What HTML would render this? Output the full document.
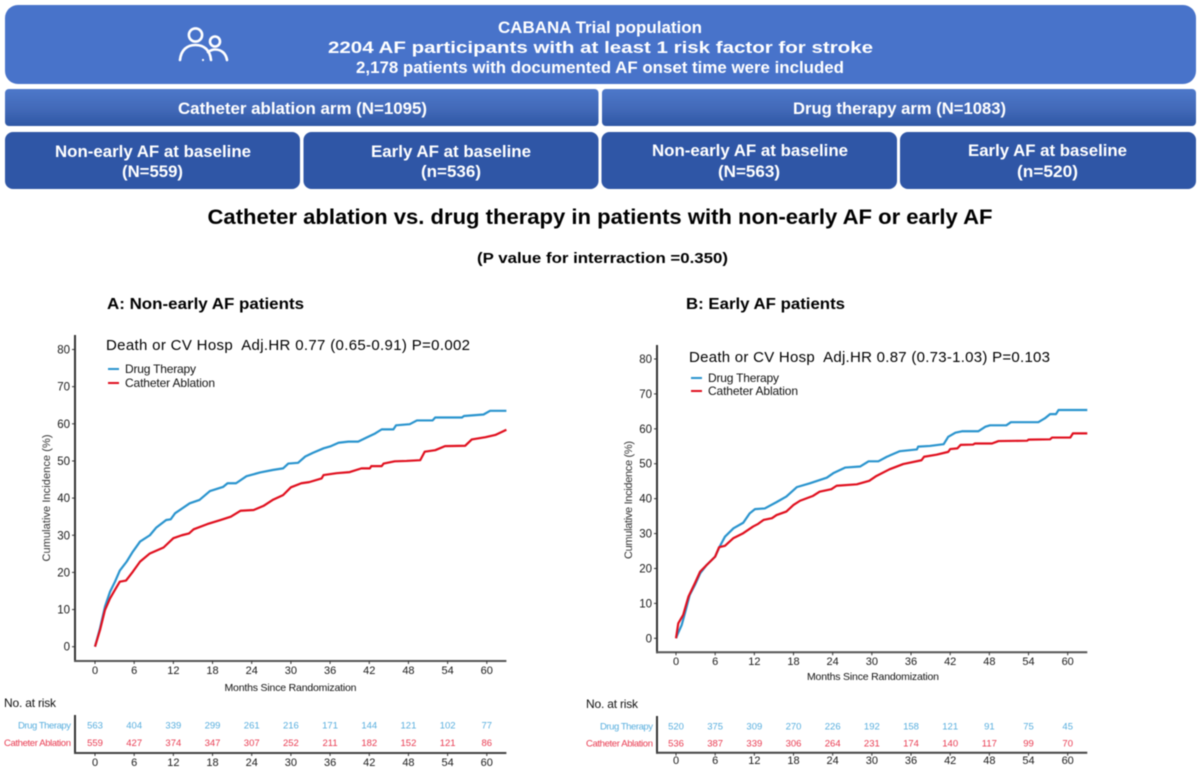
<!DOCTYPE html>
<html lang="en">
<head>
<meta charset="utf-8">
<title>CABANA Trial: catheter ablation vs. drug therapy</title>
<style>
html,body{margin:0;padding:0;background:#fff;width:1200px;height:769px;overflow:hidden}
svg{display:block;font-family:"Liberation Sans",Arial,sans-serif;filter:blur(0.45px)}
text{white-space:pre}
.hd{fill:#fff;font-weight:bold;font-size:16.5px;text-anchor:middle}
</style>
</head>
<body>
<svg id="figure" xmlns="http://www.w3.org/2000/svg" width="1200" height="769" viewBox="0 0 1200 769">
<defs>
<linearGradient id="armGrad" x1="0" y1="0" x2="0" y2="1">
<stop offset="0" stop-color="#4d78ca"/><stop offset="0.55" stop-color="#4269b8"/><stop offset="1" stop-color="#2e57a5"/>
</linearGradient>
</defs>
<rect x="5" y="5" width="1191" height="79" rx="13" fill="#4873ca"/>
<g fill="none" stroke="#fff" stroke-width="2.6" stroke-linecap="round">
<circle cx="195.5" cy="35" r="6.6"/>
<path d="M180 60 C181 50 187 45 195.5 45 C204 45 210 50 211 60"/>
<circle cx="215" cy="41.5" r="5"/>
<path d="M208 52 C211 50 213 49.5 215 49.5 C222 49.5 226 54 227 60"/>
<circle cx="203" cy="60" r="0.6" stroke-width="1"/>
</g>
<text class="hd" x="600" y="33" textLength="204" lengthAdjust="spacingAndGlyphs">CABANA Trial population</text>
<text class="hd" x="600.5" y="53" textLength="545" lengthAdjust="spacingAndGlyphs">2204 AF participants with at least 1 risk factor for stroke</text>
<text class="hd" x="600" y="73" textLength="488" lengthAdjust="spacingAndGlyphs">2,178 patients with documented AF onset time were included</text>

<rect x="5" y="89" width="593.500" height="37" rx="4" fill="url(#armGrad)"/>
<rect x="602" y="89" width="594" height="37" rx="4" fill="url(#armGrad)"/>
<text class="hd" x="302.500" y="114" textLength="249" lengthAdjust="spacingAndGlyphs">Catheter ablation arm (N=1095)</text>
<text class="hd" x="899.500" y="114" textLength="213" lengthAdjust="spacingAndGlyphs">Drug therapy arm (N=1083)</text>

<rect x="5" y="132" width="295" height="57" rx="8" fill="#2f56a6"/>
<rect x="303.500" y="132" width="295" height="57" rx="8" fill="#2f56a6"/>
<rect x="601.500" y="132" width="295.500" height="57" rx="8" fill="#2f56a6"/>
<rect x="900" y="132" width="296" height="57" rx="8" fill="#2f56a6"/>
<text class="hd" x="153" y="157" textLength="196" lengthAdjust="spacingAndGlyphs">Non-early AF at baseline</text>
<text class="hd" x="152.500" y="177" textLength="61" lengthAdjust="spacingAndGlyphs">(N=559)</text>
<text class="hd" x="451" y="157" textLength="160" lengthAdjust="spacingAndGlyphs">Early AF at baseline</text>
<text class="hd" x="451" y="177" textLength="60" lengthAdjust="spacingAndGlyphs">(n=536)</text>
<text class="hd" x="750" y="156" textLength="196" lengthAdjust="spacingAndGlyphs">Non-early AF at baseline</text>
<text class="hd" x="749" y="177" textLength="62" lengthAdjust="spacingAndGlyphs">(N=563)</text>
<text class="hd" x="1047.500" y="156" textLength="159" lengthAdjust="spacingAndGlyphs">Early AF at baseline</text>
<text class="hd" x="1047.500" y="177" textLength="61" lengthAdjust="spacingAndGlyphs">(n=520)</text>

<text x="600" y="224" font-size="21" font-weight="bold" text-anchor="middle" fill="#000" textLength="785" lengthAdjust="spacingAndGlyphs">Catheter ablation vs. drug therapy in patients with non-early AF or early AF</text>
<text x="602.500" y="263" font-size="15" font-weight="bold" text-anchor="middle" fill="#000" textLength="251" lengthAdjust="spacingAndGlyphs">(P value for interraction =0.350)</text>
<text x="107" y="309" font-size="16" font-weight="bold" fill="#000" textLength="197" lengthAdjust="spacingAndGlyphs">A: Non-early AF patients</text>
<text x="686" y="309" font-size="16" font-weight="bold" fill="#000" textLength="159" lengthAdjust="spacingAndGlyphs">B: Early AF patients</text>

<g id="panelA"></g>
<g id="panelB"></g>
</svg>

<script>
var monthTicks = [0, 6, 12, 18, 24, 30, 36, 42, 48, 54, 60];
var percentTicks = [0, 10, 20, 30, 40, 50, 60, 70, 80];

var drugAMonths = [0, 0.77, 1.53, 2.3, 3.06, 3.8, 4.85, 5.8, 6.9, 8.4, 9.4, 10.9, 11.6, 12.25, 14.5, 16, 17.6, 19.6, 20.3, 21.6, 23.2, 25.3, 27.3, 28.8, 29.6, 31.1, 32.2, 33.4, 35, 36, 37.3, 38.8, 40.3, 41.6, 42.9, 43.9, 45.7, 46.1, 48.2, 49.3, 51.7, 52.1, 56.2, 56.5, 59.5, 60.5, 63];
var drugAValues = [0, 5, 10.8, 14.8, 17.5, 20.5, 22.9, 25.6, 28.3, 30, 32.1, 34.1, 34.3, 35.9, 38.6, 39.5, 41.9, 43, 44, 44, 45.9, 46.9, 47.6, 48, 49.3, 49.5, 51.2, 52.2, 53.4, 53.9, 54.9, 55.2, 55.2, 56.3, 57.4, 58.5, 58.5, 59.6, 59.9, 60.9, 60.9, 61.7, 61.7, 62.1, 62.5, 63.500, 63.500];
var ablationAMonths = [0, 0.77, 1.53, 2.3, 3.06, 3.8, 4.75, 5.8, 6.9, 8.4, 10.5, 12, 13.3, 14.4, 15.1, 17.2, 19.2, 20.8, 22.3, 24.3, 25.8, 27.3, 28.8, 30, 31.6, 32.8, 34.7, 35, 37, 39, 40.8, 42.1, 42.3, 43.9, 44.2, 45.9, 47.7, 49.8, 50.5, 52.1, 53.6, 56.7, 57.7, 59.8, 61.3, 62.4, 63];
var ablationAValues = [0, 4.5, 9.9, 13, 15.3, 17.5, 17.8, 20.2, 22.9, 25.1, 26.7, 29.2, 30, 30.5, 31.6, 33, 34.1, 35, 36.6, 36.8, 37.9, 39.6, 40.8, 42.9, 44, 44.3, 45.3, 46.2, 46.7, 47, 48, 48, 48.6, 48.6, 49.3, 49.9, 50, 50.2, 52.5, 52.9, 54, 54.1, 55.8, 56.4, 57, 57.9, 58.4];

var drugBMonths = [0, 0.2, 0.87, 1.5, 2.1, 2.9, 3.7, 4.7, 6, 6.7, 7.5, 8.8, 10.3, 11.3, 12.1, 13.6, 15.4, 16.9, 18.5, 20.5, 23.1, 24.1, 25.9, 28.2, 29.5, 31, 32.3, 34.3, 36.9, 37.1, 38.9, 41, 41.7, 42.8, 43.8, 46.3, 47.4, 48.1, 50.6, 51.3, 55.5, 56.5, 57.3, 58.2, 58.6, 63];
var drugBValues = [0, 1, 3.8, 8.1, 12.4, 15.3, 18.6, 21, 23.4, 26.3, 29.1, 31.5, 33.1, 35.8, 37, 37.2, 39, 40.6, 43.3, 44.4, 46, 47.3, 48.9, 49.2, 50.7, 50.7, 52, 53.6, 54.1, 54.9, 55.1, 55.6, 57.7, 58.9, 59.3, 59.3, 60.6, 61, 61, 61.9, 61.9, 63, 64.2, 64.2, 65.4, 65.4];
var ablationBMonths = [0, 0.35, 1.1, 1.9, 2.9, 3.7, 4.7, 6, 6.6, 7.5, 8.8, 10.3, 11.8, 12.6, 13.4, 14.7, 15.4, 16.9, 18, 19, 21, 22, 23.8, 24.6, 27.7, 29.6, 30.7, 32.7, 34.8, 37.6, 38, 39.9, 41.7, 42, 43.1, 43.6, 45.5, 45.8, 48.4, 49.4, 53.8, 54, 57.3, 57.6, 60.4, 60.8, 63];
var ablationBValues = [0, 4.3, 6.7, 11.9, 15.8, 19.1, 21, 23.4, 26.1, 26.5, 28.7, 30.1, 32, 32.8, 33.9, 34.4, 35.3, 36.3, 38.2, 39.4, 40.8, 42, 42.7, 43.7, 44.1, 45.1, 46.5, 48.4, 49.9, 51, 52, 52.6, 53.4, 54.2, 54.4, 55.4, 55.5, 55.8, 55.8, 56.5, 56.6, 56.9, 57, 57.5, 57.5, 58.7, 58.7];

var riskDrugA = [563, 404, 339, 299, 261, 216, 171, 144, 121, 102, 77];
var riskAblationA = [559, 427, 374, 347, 307, 252, 211, 182, 152, 121, 86];
var riskDrugB = [520, 375, 309, 270, 226, 192, 158, 121, 91, 75, 45];
var riskAblationB = [536, 387, 339, 306, 264, 231, 174, 140, 117, 99, 70];

var NS = 'http://www.w3.org/2000/svg';
var BLUE = '#2a94ce', RED = '#e0101f', RISK_BLUE = '#58aede', RISK_RED = '#e83a50', INK = '#1a1a1a';

function node(parent, tag, attrs, content) {
  var el = document.createElementNS(NS, tag);
  for (var k in attrs) el.setAttribute(k, attrs[k]);
  if (content !== undefined) el.textContent = content;
  parent.appendChild(el);
  return el;
}
function linear(d0, d1, r0, r1) {
  return function (v) { return r0 + (v - d0) * (r1 - r0) / (d1 - d0); };
}
function seriesPath(months, values, x, y) {
  return months.map(function (m, i) {
    return (i ? 'L' : 'M') + x(m).toFixed(2) + ' ' + y(values[i]).toFixed(2);
  }).join('');
}

function drawPanel(g, o) {
  var x = linear(0, 60, o.x0, o.x60);
  var y = linear(0, 80, o.y0, o.y80);
  var el;

  el = node(g, 'line', {x1: o.axisX, x2: o.axisX, y1: o.axisTop, y2: o.axisY + 1, stroke: '#333', 'stroke-width': 2});
  
  
  el = node(g, 'line', {x1: o.axisX - 1, x2: x(63), y1: o.axisY, y2: o.axisY, stroke: '#555', 'stroke-width': 2});
  
  

  percentTicks.forEach(function (t) {
    var tick = node(g, 'line', {x1: o.axisX - 3, x2: o.axisX, y1: y(t), y2: y(t), stroke: '#333', 'stroke-width': 1});
    
    
    var label = node(g, 'text', {x: o.axisX - 5, y: y(t) + 4, 'font-size': 11.500, 'text-anchor': 'end', fill: INK}, String(t));
    
    
  });
  monthTicks.forEach(function (t) {
    var tick = node(g, 'line', {x1: x(t), x2: x(t), y1: o.axisY, y2: o.axisY + 3, stroke: '#333', 'stroke-width': 1});
    
    
    var label = node(g, 'text', {x: x(t), y: o.tickBase, 'font-size': 11, 'text-anchor': 'middle', fill: INK}, String(t));
    
    
  });

  el = node(g, 'text', {transform: 'translate(' + o.yTitleX + ' ' + o.yTitleY + ') rotate(-90)', 'font-size': 11, 'text-anchor': 'middle', fill: '#333', textLength: o.yTitleLen}, 'Cumulative Incidence (%)');
  
  
  el = node(g, 'text', {x: o.xTitleX, y: o.xTitleY, 'font-size': 10.500, 'text-anchor': 'middle', fill: '#111', textLength: 132}, 'Months Since Randomization');
  
  

  el = node(g, 'path', {d: seriesPath(o.drugM, o.drugV, x, y), fill: 'none', stroke: BLUE, 'stroke-width': 2.200, 'stroke-linejoin': 'round'});
  
  
  el = node(g, 'path', {d: seriesPath(o.ablM, o.ablV, x, y), fill: 'none', stroke: RED, 'stroke-width': 2.200, 'stroke-linejoin': 'round'});
  
  

  el = node(g, 'text', {x: o.hrX, y: o.hrY, 'font-size': 15, fill: '#000', textLength: o.hrW}, o.hrText);
  
  

  el = node(g, 'line', {x1: o.legX, x2: o.legX + 11, y1: o.legY1, y2: o.legY1, stroke: BLUE, 'stroke-width': 2});
  
  
  el = node(g, 'text', {x: o.legX + 17, y: o.legY1 + 4, 'font-size': 12, fill: '#111', textLength: 71}, 'Drug Therapy');
  
  
  el = node(g, 'line', {x1: o.legX, x2: o.legX + 11, y1: o.legY2, y2: o.legY2, stroke: RED, 'stroke-width': 2});
  
  
  el = node(g, 'text', {x: o.legX + 17, y: o.legY2 + 4, 'font-size': 12, fill: '#111', textLength: 90}, 'Catheter Ablation');
  
  

  el = node(g, 'text', {x: o.riskTitleX, y: o.riskTitleY, 'font-size': 12, fill: '#111', textLength: 52}, 'No. at risk');
  
  
  el = node(g, 'line', {x1: o.axisX, x2: o.axisX, y1: o.riskTop, y2: o.riskAxisY + 1, stroke: '#333', 'stroke-width': 2});
  
  
  el = node(g, 'line', {x1: o.axisX - 1, x2: x(63), y1: o.riskAxisY, y2: o.riskAxisY, stroke: '#444', 'stroke-width': 2});
  
  
  el = node(g, 'text', {x: o.axisX - 4, y: o.riskY1, 'font-size': 9.500, 'text-anchor': 'end', fill: RISK_BLUE, textLength: 53}, 'Drug Therapy');
  
  
  el = node(g, 'text', {x: o.axisX - 4, y: o.riskY2, 'font-size': 9.500, 'text-anchor': 'end', fill: RISK_RED, textLength: 67}, 'Catheter Ablation');
  
  

  monthTicks.forEach(function (t, i) {
    var a = node(g, 'text', {x: x(t), y: o.riskY1, 'font-size': 9.500, 'text-anchor': 'middle', fill: RISK_BLUE}, String(o.riskDrug[i]));
    
    
    var b = node(g, 'text', {x: x(t), y: o.riskY2, 'font-size': 9.500, 'text-anchor': 'middle', fill: RISK_RED}, String(o.riskAbl[i]));
    
    
    var tick = node(g, 'line', {x1: x(t), x2: x(t), y1: o.riskAxisY, y2: o.riskAxisY + 3, stroke: '#333', 'stroke-width': 1});
    
    
    var c = node(g, 'text', {x: x(t), y: o.riskTickBase, 'font-size': 11, 'text-anchor': 'middle', fill: INK}, String(t));
    
    
  });
}

drawPanel(document.getElementById('panelA'), {
  x0: 95, x60: 486.8, y0: 646.7, y80: 349.5,
  axisX: 75, axisTop: 335, axisY: 661, tickBase: 674,
  yTitleX: 50, yTitleY: 498, yTitleLen: 127, xTitleX: 290.500, xTitleY: 691,
  hrX: 106, hrY: 350, hrW: 364, hrText: 'Death or CV Hosp  Adj.HR 0.77 (0.65-0.91) P=0.002',
  legX: 108, legY1: 369, legY2: 383,
  riskTitleX: 4, riskTitleY: 707, riskTop: 715, riskAxisY: 753,
  riskY1: 728.500, riskY2: 746, riskTickBase: 766,
  drugM: drugAMonths, drugV: drugAValues, ablM: ablationAMonths, ablV: ablationAValues,
  riskDrug: riskDrugA, riskAbl: riskAblationA
});
drawPanel(document.getElementById('panelB'), {
  x0: 676, x60: 1067.700, y0: 638.3, y80: 359,
  axisX: 657, axisTop: 345, axisY: 652.3, tickBase: 665,
  yTitleX: 632, yTitleY: 500, yTitleLen: 118, xTitleX: 873, xTitleY: 680,
  hrX: 689, hrY: 362, hrW: 361, hrText: 'Death or CV Hosp  Adj.HR 0.87 (0.73-1.03) P=0.103',
  legX: 691, legY1: 378, legY2: 391,
  riskTitleX: 586, riskTitleY: 708, riskTop: 716, riskAxisY: 752.700,
  riskY1: 729.500, riskY2: 746.500, riskTickBase: 764,
  drugM: drugBMonths, drugV: drugBValues, ablM: ablationBMonths, ablV: ablationBValues,
  riskDrug: riskDrugB, riskAbl: riskAblationB
});
</script>
</body>
</html>
